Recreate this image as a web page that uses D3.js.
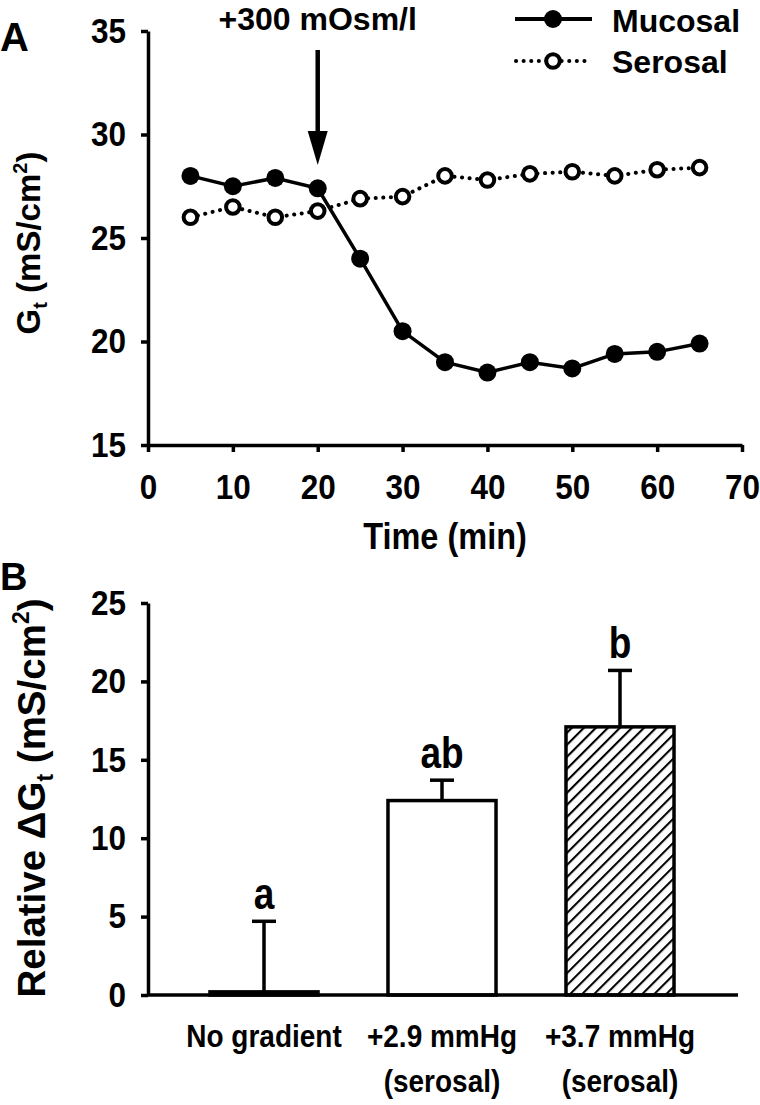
<!DOCTYPE html>
<html><head><meta charset="utf-8">
<script src="https://cdn.jsdelivr.net/npm/d3@7"></script>
<style>
body{margin:0;background:#fff;}
text{font-family:"Liberation Sans",Arial,sans-serif;font-weight:bold;fill:#000;}
</style></head>
<body><svg id="c" width="760" height="1105"></svg>
<script>
// ---- Panel A data ----
const timeMin = [5,10,15,20,25,30,35,40,45,50,55,60,65];
const mucosal = [28.0,27.5,27.9,27.4,24.0,20.5,19.0,18.5,19.0,18.7,19.4,19.5,19.9];
const serosal = [26.0,26.5,26.0,26.3,26.9,27.0,28.0,27.8,28.1,28.2,28.0,28.3,28.4];
const aYTicks = [15,20,25,30,35];
const aXTicks = [0,10,20,30,40,50,60,70];
const arrowTime = 20;
// ---- Panel B data ----
const groups = ["No gradient","+2.9 mmHg (serosal)","+3.7 mmHg (serosal)"];
const groupLines = [["No gradient"],["+2.9 mmHg","(serosal)"],["+3.7 mmHg","(serosal)"]];
const deltaGt = [0.2,12.4,17.1];
const deltaErr = [4.5,1.3,3.6];
const sigLetters = ["a","ab","b"];
const bYTicks = [0,5,10,15,20,25];

const K = 1.12; // vertical stretch of glyphs in the original figure
const svg = d3.select("#c");
const defs = svg.append("defs");
const pat = defs.append("pattern").attr("id","hatch").attr("patternUnits","userSpaceOnUse")
  .attr("width",8.5).attr("height",8.5).attr("patternTransform","rotate(45)");
pat.append("rect").attr("width",8.5).attr("height",8.5).attr("fill","#fff");
pat.append("line").attr("x1",0).attr("y1",0).attr("x2",0).attr("y2",8.5).attr("stroke","#000").attr("stroke-width",4.2);

function label(g,x,y,txt,size,anchor,k){
  return g.append("g").attr("transform",`translate(${x},${y}) scale(1,${k||K})`)
    .append("text").attr("text-anchor",anchor||"start").style("font-size",size+"px").text(txt);
}
function styleAxis(a,fs){
  a.select(".domain").attr("stroke","#000").attr("stroke-width",3.5);
  a.selectAll(".tick line").attr("stroke","#000").attr("stroke-width",3.5);
  a.selectAll(".tick text").attr("transform",`scale(1,${K})`).style("font-size",fs+"px")
    .style("font-family","'Liberation Sans',Arial,sans-serif").style("font-weight","bold");
}

// ===== Panel A =====
const xA = d3.scaleLinear().domain([0,70]).range([148,742]);
const yA = d3.scaleLinear().domain([15,35]).range([445,31]);
const gA = svg.append("g");

const axA_y = gA.append("g").attr("transform",`translate(${xA(0)},0)`)
  .call(d3.axisLeft(yA).tickValues(aYTicks).tickSize(7).tickPadding(15).tickSizeOuter(0));
const axA_x = gA.append("g").attr("transform",`translate(0,${yA(15)})`)
  .call(d3.axisBottom(xA).tickValues(aXTicks).tickSize(7).tickPadding(19).tickSizeOuter(0));
styleAxis(axA_y,31.5); styleAxis(axA_x,31.5);

const lineA = d3.line().x((d,i)=>xA(timeMin[i])).y(d=>yA(d));
gA.append("path").attr("d",lineA(serosal)).attr("fill","none").attr("stroke","#000")
  .attr("stroke-width",4).attr("stroke-linecap","round").attr("stroke-dasharray","0.1,7.5");
gA.append("path").attr("d",lineA(mucosal)).attr("fill","none").attr("stroke","#000").attr("stroke-width",3.5);
gA.selectAll(".ser").data(serosal).enter().append("circle")
  .attr("cx",(d,i)=>xA(timeMin[i])).attr("cy",d=>yA(d)).attr("r",6.8)
  .attr("fill","#fff").attr("stroke","#000").attr("stroke-width",4);
gA.selectAll(".muc").data(mucosal).enter().append("circle")
  .attr("cx",(d,i)=>xA(timeMin[i])).attr("cy",d=>yA(d)).attr("r",9).attr("fill","#000");

// arrow
const ax = xA(arrowTime);
gA.append("line").attr("x1",ax).attr("x2",ax).attr("y1",50).attr("y2",140).attr("stroke","#000").attr("stroke-width",4.5);
gA.append("path").attr("d",`M${ax-10},131 L${ax+10},131 L${ax},165 Z`).attr("fill","#000");
label(gA,ax,30,"+300 mOsm/l",32,"middle",1.0);

// legend
const lg = gA.append("g");
lg.append("line").attr("x1",515).attr("x2",592).attr("y1",19).attr("y2",19).attr("stroke","#000").attr("stroke-width",4);
lg.append("circle").attr("cx",553).attr("cy",19).attr("r",9).attr("fill","#000");
label(lg,612,32,"Mucosal",32,"start",1.0);
lg.append("line").attr("x1",516).attr("x2",592).attr("y1",61).attr("y2",61).attr("stroke","#000")
  .attr("stroke-width",4).attr("stroke-linecap","round").attr("stroke-dasharray","0.1,7.5");
lg.append("circle").attr("cx",553).attr("cy",61).attr("r",6.8).attr("fill","#fff").attr("stroke","#000").attr("stroke-width",4);
label(lg,612,73,"Serosal",32,"start",1.0);

label(gA,0,51,"A",40,"start",1.0);
label(gA,445,549,"Time (min)",32.5,"middle");
const yl = gA.append("text").attr("transform","translate(40,243) rotate(-90)").attr("text-anchor","middle").style("font-size","33px");
yl.append("tspan").text("G");
yl.append("tspan").attr("dy",7).style("font-size","20px").text("t");
yl.append("tspan").attr("dy",-7).text(" (mS/cm");
yl.append("tspan").attr("dy",-13).style("font-size","20px").text("2");
yl.append("tspan").attr("dy",13).text(")");

// ===== Panel B =====
const xB = d3.scaleBand().domain(groups).range([175,709]).paddingInner(0.393).paddingOuter(0.1965);
const yB = d3.scaleLinear().domain([0,25]).range([995,603]);
const gB = svg.append("g");
const axB_y = gB.append("g").attr("transform","translate(148,0)")
  .call(d3.axisLeft(yB).tickValues(bYTicks).tickSize(7).tickPadding(15).tickSizeOuter(0));
styleAxis(axB_y,31.5);

const cx = i => xB(groups[i]) + xB.bandwidth()/2;
gB.selectAll(".err").data(deltaGt).enter().append("line")
  .attr("x1",(d,i)=>cx(i)).attr("x2",(d,i)=>cx(i))
  .attr("y1",d=>yB(d)).attr("y2",(d,i)=>yB(d+deltaErr[i])).attr("stroke","#000").attr("stroke-width",3.5);
gB.selectAll(".cap").data(deltaGt).enter().append("line")
  .attr("x1",(d,i)=>cx(i)-12).attr("x2",(d,i)=>cx(i)+12)
  .attr("y1",(d,i)=>yB(d+deltaErr[i])).attr("y2",(d,i)=>yB(d+deltaErr[i])).attr("stroke","#000").attr("stroke-width",3.5);
gB.selectAll(".bar").data(deltaGt).enter().append("rect")
  .attr("x",(d,i)=>xB(groups[i])).attr("width",xB.bandwidth())
  .attr("y",d=>yB(d)).attr("height",d=>yB(0)-yB(d))
  .attr("fill",(d,i)=>i===2?"url(#hatch)":"#fff").attr("stroke","#000").attr("stroke-width",3.5);
gB.append("line").attr("x1",148).attr("x2",738).attr("y1",yB(0)).attr("y2",yB(0)).attr("stroke","#000").attr("stroke-width",3.5);

sigLetters.forEach((s,i)=>label(gB,cx(i),yB(deltaGt[i]+deltaErr[i])-12,s,37,"middle",1.18));

groupLines.forEach((lines,i)=>{
  lines.forEach((l,j)=>label(gB,cx(i),1047+j*45,l,28,"middle",1.12));
});

label(gB,0,590,"B",38,"start",1.0);
const yl2 = gB.append("text").attr("transform","translate(45,798) rotate(-90)").attr("text-anchor","middle").style("font-size","38.5px");
yl2.append("tspan").text("Relative ΔG");
yl2.append("tspan").attr("dy",8).style("font-size","23px").text("t");
yl2.append("tspan").attr("dy",-8).text(" (mS/cm");
yl2.append("tspan").attr("dy",-16).style("font-size","23px").text("2");
yl2.append("tspan").attr("dy",16).text(")");
</script></body></html>
